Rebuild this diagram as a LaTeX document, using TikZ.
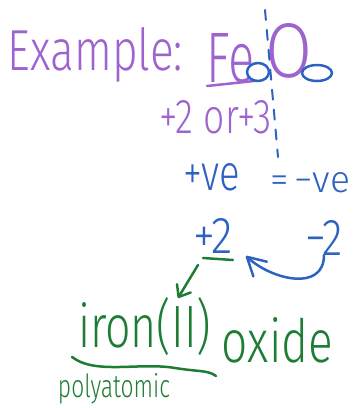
\documentclass[tikz,border=0pt]{standalone}
\usepackage{fontspec}
\setmainfont{Fira Sans}[UprightFont=* Light]
\usepackage{graphicx}
\usetikzlibrary{arrows.meta}
\definecolor{hwpurple}{HTML}{9D63CF}
\definecolor{hwblue}{HTML}{2E62C0}
\definecolor{hwgreen}{HTML}{1E7D35}
\newcommand\hwfit[3]{\resizebox{#1pt}{#2pt}{#3}}
\begin{document}
\begin{tikzpicture}[x=1pt,y=-1pt,
  hw/.style={inner sep=0pt, outer sep=0pt, anchor=base west},
  pen/.style={line width=2.5pt, line cap=round, line join=round},
  barbg/.style={-{Straight Barb[length=10pt,width=16pt,round]}},
  barbb/.style={-{Straight Barb[length=18pt,width=20pt,round]}},
]
\useasboundingbox (0,0) rectangle (356,408);
% purple
\node[hw, text=hwpurple] (example) at (8,70) {\hwfit{175}{43}{Example:}};
\node[hw, text=hwpurple] (fe) at (207,82) {\hwfit{48}{49}{Fe}};
\node[hw, text=hwpurple] (oxy) at (265,77) {\hwfit{47}{54}{O}};
\draw[pen, hwpurple] (207,86) -- (254,81);
\node[hw, text=hwpurple] (orr) at (160,133) {\hwfit{112}{33}{+2 or+3}};
% blue
\coordinate (dtop) at (265,10);
\coordinate (dbot) at (278,157);
\draw[hwblue, line width=2pt, line cap=round, dash pattern=on 10pt off 10pt] (dtop) -- (dbot);
\draw[pen, hwblue] (258,72) ellipse [x radius=11pt, y radius=9pt];
\draw[pen, hwblue] (317,73) ellipse [x radius=15pt, y radius=8pt];
\node[hw, text=hwblue] (pve) at (183,190) {\hwfit{57}{27}{+ve}};
\node[hw, text=hwblue] (nve) at (270,192) {\hwfit{80}{20}{=\,−ve}};
\node[hw, text=hwblue] (ptwo) at (193,253) {\hwfit{40}{35}{+2}};
\node[hw, text=hwblue] (ntwo) at (305,255) {\hwfit{38}{35}{−2}};
\coordinate (bend) at (246,256);
\draw[pen, hwblue, barbb] (ntwo.south) .. controls (324,292) and (272,280) .. (bend);
% green
\draw[pen, hwgreen] (203,258) -- (233,260);
\coordinate (gs) at (198,265);
\coordinate (ge) at (178,298);
\draw[pen, hwgreen, barbg] (gs) -- (ge);
\node[hw, text=hwgreen] (iron) at (78,347) {\hwfit{133}{50}{iron(II)}};
\node[hw, text=hwgreen] (oxide) at (222,362) {\hwfit{111}{45}{oxide}};
\draw[pen, hwgreen] (72,357) .. controls (95,375) and (140,362) .. (175,368) .. controls (200,372) and (208,370) .. (216,376);
\node[hw, text=hwgreen] (poly) at (58,397) {\hwfit{112}{24}{polyatomic}};
\end{tikzpicture}
\end{document}
